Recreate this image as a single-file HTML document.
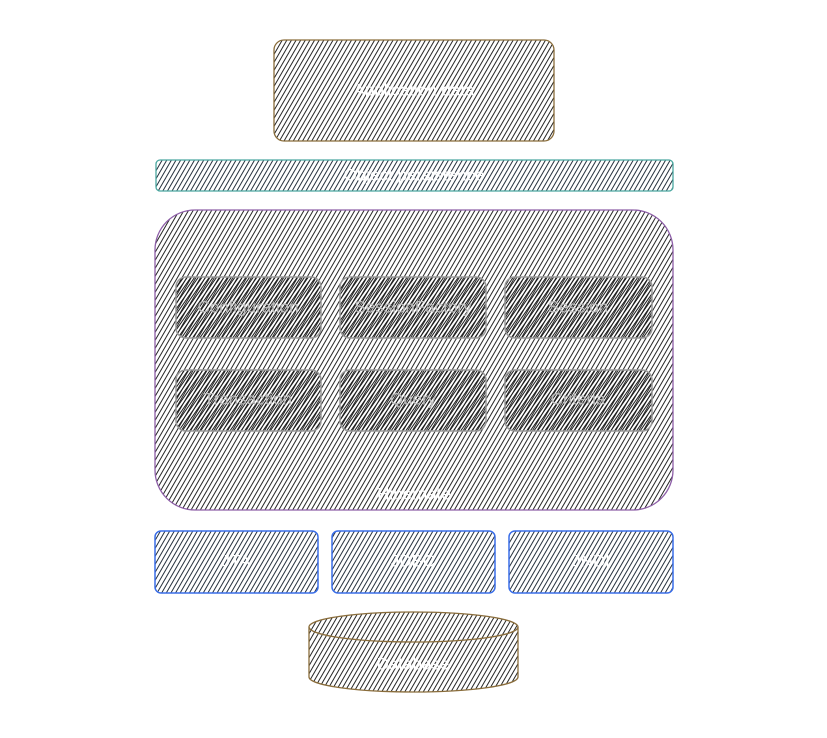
<!DOCTYPE html>
<html><head><meta charset="utf-8"><style>
html,body{margin:0;padding:0;background:#fff;}
svg{display:block}
text{font-family:"Liberation Sans",sans-serif;fill:#fff;text-anchor:middle;dominant-baseline:middle;font-size:17px;}
</style></head><body>
<svg width="827" height="738" viewBox="0 0 827 738" xmlns="http://www.w3.org/2000/svg">
<defs>
<pattern id="h" width="4" height="4" patternUnits="userSpaceOnUse" patternTransform="rotate(30)">
<line x1="0" y1="0" x2="0" y2="4" stroke="#1a1a1a" stroke-width="1.9"/>
</pattern>
<pattern id="hb" width="4" height="4" patternUnits="userSpaceOnUse" patternTransform="rotate(30)">
<line x1="0" y1="0" x2="0" y2="4" stroke="#1a2633" stroke-width="1.9"/>
</pattern>
<pattern id="hd" width="3" height="3" patternUnits="userSpaceOnUse" patternTransform="rotate(35)">
<line x1="0" y1="0" x2="0" y2="3" stroke="#1a1a1a" stroke-width="2"/>
</pattern>
</defs>
<rect x="274" y="40" width="280" height="101" rx="10" fill="url(#h)" stroke="#8a6d3b" stroke-width="1.3"/>
<text x="414" y="91">Application data</text>
<rect x="156" y="160" width="517" height="31" rx="4" fill="url(#hb)" stroke="#4aa8a0" stroke-width="1.3"/>
<text x="414" y="176">Object persistence</text>
<rect x="155" y="210" width="518" height="300" rx="40" fill="url(#h)" stroke="#8e5fa8" stroke-width="1.3"/>
<text x="414" y="495">Hibernate</text>
<g stroke="#999" stroke-width="1.5" fill="url(#hd)">
<rect x="176" y="277" width="145" height="61" rx="10"/>
<rect x="340" y="277" width="146" height="61" rx="10"/>
<rect x="505" y="277" width="147" height="61" rx="10"/>
<rect x="176" y="370" width="145" height="61" rx="10"/>
<rect x="340" y="370" width="146" height="61" rx="10"/>
<rect x="505" y="370" width="147" height="61" rx="10"/>
</g>
<text x="248" y="308" style="fill:#bbb">Configuration</text>
<text x="413" y="308" style="fill:#bbb">SessionFactory</text>
<text x="578" y="308" style="fill:#bbb">Session</text>
<text x="248" y="400" style="fill:#bbb">Transaction</text>
<text x="413" y="400" style="fill:#bbb">Query</text>
<text x="578" y="400" style="fill:#bbb">Criteria</text>
<g stroke="#3a6ee8" stroke-width="1.5" fill="url(#hb)">
<rect x="155" y="531" width="163" height="62" rx="6"/>
<rect x="332" y="531" width="163" height="62" rx="6"/>
<rect x="509" y="531" width="164" height="62" rx="6"/>
</g>
<text x="236" y="562">JTA</text>
<text x="413" y="562">JDBC</text>
<text x="591" y="562">JNDI</text>
<path d="M309 627 A104.5 15 0 0 1 518 627 L518 677 A104.5 15 0 0 1 309 677 Z" fill="url(#h)" stroke="#8a6d3b" stroke-width="1.3"/>
<path d="M309 627 A104.5 15 0 0 0 518 627" fill="none" stroke="#8a6d3b" stroke-width="1.3"/>
<text x="413" y="665">Database</text>
</svg>
</body></html>
